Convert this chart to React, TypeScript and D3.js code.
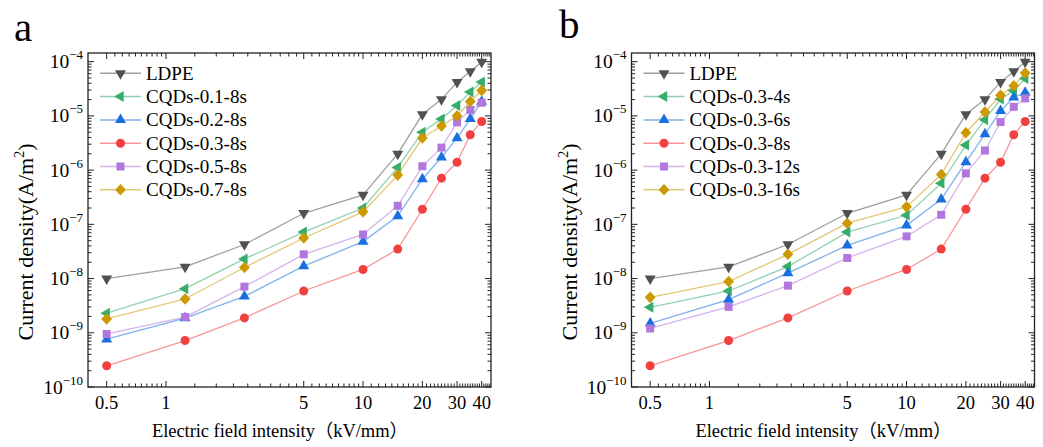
import React from "react";
import * as d3 from "d3";

// ---------- data ----------
const fieldValues = [0.5, 1.25, 2.5, 5, 10, 15, 20, 25, 30, 35, 40];

const ldpe = [1e-8, 1.64e-8, 4.25e-8, 1.6e-7, 3.5e-7, 2.0e-6, 1.07e-5, 2.02e-5, 4.2e-5, 6.6e-5, 9.9e-5];
const cqd03_8s = [2.46e-10, 7.2e-10, 1.88e-9, 5.9e-9, 1.47e-8, 3.5e-8, 1.9e-7, 7.1e-7, 1.4e-6, 4.5e-6, 7.9e-6];

// panel a
const cqd01_8s = [2.3e-9, 6.5e-9, 2.3e-8, 7.2e-8, 2.0e-7, 1.12e-6, 5.0e-6, 8.8e-6, 1.55e-5, 2.75e-5, 4.2e-5];
const cqd02_8s = [7.6e-10, 1.87e-9, 4.7e-9, 1.7e-8, 4.8e-8, 1.42e-7, 6.8e-7, 1.72e-6, 3.9e-6, 8.8e-6, 1.84e-5];
const cqd05_8s = [9.5e-10, 1.95e-9, 7.1e-9, 2.8e-8, 6.5e-8, 2.2e-7, 1.18e-6, 2.6e-6, 7.6e-6, 1.29e-5, 1.75e-5];
const cqd07_8s = [1.8e-9, 4.2e-9, 1.6e-8, 5.6e-8, 1.7e-7, 8.1e-7, 3.9e-6, 6.5e-6, 1.0e-5, 1.84e-5, 2.95e-5];

// panel b
const cqd03_4s = [2.95e-9, 5.9e-9, 1.66e-8, 7.2e-8, 1.47e-7, 5.7e-7, 2.9e-6, 8.5e-6, 2.04e-5, 2.9e-5, 4.9e-5];
const cqd03_6s = [1.49e-9, 4.1e-9, 1.26e-8, 4.1e-8, 9.6e-8, 2.9e-7, 1.4e-6, 4.6e-6, 1.24e-5, 2.2e-5, 2.7e-5];
const cqd03_12s = [1.2e-9, 3.0e-9, 7.4e-9, 2.4e-8, 6.0e-8, 1.5e-7, 8.7e-7, 2.3e-6, 7.7e-6, 1.47e-5, 2.1e-5];
const cqd03_16s = [4.5e-9, 8.8e-9, 2.8e-8, 1.05e-7, 2.1e-7, 8.3e-7, 4.9e-6, 1.18e-5, 2.4e-5, 3.6e-5, 6.2e-5];

const labelsA = ["LDPE", "CQDs-0.1-8s", "CQDs-0.2-8s", "CQDs-0.3-8s", "CQDs-0.5-8s", "CQDs-0.7-8s"];
const labelsB = ["LDPE", "CQDs-0.3-4s", "CQDs-0.3-6s", "CQDs-0.3-8s", "CQDs-0.3-12s", "CQDs-0.3-16s"];
const valuesA = [ldpe, cqd01_8s, cqd02_8s, cqd03_8s, cqd05_8s, cqd07_8s];
const valuesB = [ldpe, cqd03_4s, cqd03_6s, cqd03_8s, cqd03_12s, cqd03_16s];

const xTickValues = [0.5, 1, 5, 10, 20, 30, 40];
const xTickLabels = ["0.5", "1", "5", "10", "20", "30", "40"];
const yExponents = [-10, -9, -8, -7, -6, -5, -4];

// ---------- styles ----------
const markerColors = ["#515151", "#37AD6B", "#1A6FDF", "#F14040", "#B177DE", "#CC9900"];
const shapes = ["down", "left", "up", "circle", "square", "diamond"];
const FONT = "'Liberation Serif', 'Times New Roman', 'Noto Sans CJK SC', serif";

const TOP = 53;
const BOTTOM = 387;
const PW = 403;

function markerPath(shape: string): string {
  const w = 11, h = 9.5;
  switch (shape) {
    case "up":
      return `M0,${-h * 2 / 3}L${w / 2},${h / 3}L${-w / 2},${h / 3}Z`;
    case "down":
      return `M0,${h * 2 / 3}L${w / 2},${-h / 3}L${-w / 2},${-h / 3}Z`;
    case "left":
      return `M${-h * 2 / 3},0L${h / 3},${-w / 2}L${h / 3},${w / 2}Z`;
    case "square":
      return "M-4,-4H4V4H-4Z";
    case "diamond":
      return "M0,-5.8L5.4,0L0,5.8L-5.4,0Z";
    default:
      return d3.symbol().type(d3.symbolCircle).size(Math.PI * 4.5 * 4.5)() as string;
  }
}

function minorX(): number[] {
  const out: number[] = [];
  const bounds = [0.5, 1, 5, 10, 20, 30, 40];
  for (let i = 0; i < bounds.length - 1; i++) {
    const a = bounds[i], b = bounds[i + 1];
    for (let k = 1; k < 10; k++) out.push(a + ((b - a) * k) / 10);
  }
  for (let v = 41; v <= 44; v++) out.push(v);
  return out;
}

function minorY(): number[] {
  const out: number[] = [];
  for (let e = -10; e <= -4; e++) {
    for (let m = 2; m <= 9; m++) {
      const v = m * Math.pow(10, e);
      if (v < Math.pow(10, -3.84)) out.push(v);
    }
  }
  return out;
}

function Panel({ left, values, labels, tag, tagX, tagY }: any) {
  const x = d3.scaleLog().domain([0.402, 44.6]).range([left, left + PW]);
  const y = d3.scaleLog().domain([1e-10, Math.pow(10, -3.84)]).range([BOTTOM, TOP]);
  const line = d3
    .line<number>()
    .x((_, i) => x(fieldValues[i]))
    .y((d) => y(d));
  const right = left + PW;
  const mx = minorX();
  const my = minorY();
  const legendX = left + 12;
  return (
    <g>
      <text x={tagX} y={tagY} fontFamily={FONT} fontSize={41}>{tag}</text>
      {/* ticks */}
      <g stroke="#222" strokeWidth={1}>
        {xTickValues.map((v) => (
          <g key={"xm" + v}>
            <line x1={x(v)} x2={x(v)} y1={BOTTOM} y2={BOTTOM - 6} />
            <line x1={x(v)} x2={x(v)} y1={TOP} y2={TOP + 6} />
          </g>
        ))}
        {mx.map((v, i) => (
          <g key={"xn" + i}>
            <line x1={x(v)} x2={x(v)} y1={BOTTOM} y2={BOTTOM - 3.5} />
            <line x1={x(v)} x2={x(v)} y1={TOP} y2={TOP + 3.5} />
          </g>
        ))}
        {yExponents.map((e) => (
          <g key={"ym" + e}>
            <line x1={left} x2={left + 6} y1={y(Math.pow(10, e))} y2={y(Math.pow(10, e))} />
            <line x1={right} x2={right - 6} y1={y(Math.pow(10, e))} y2={y(Math.pow(10, e))} />
          </g>
        ))}
        {my.map((v, i) => (
          <g key={"yn" + i}>
            <line x1={left} x2={left + 3.5} y1={y(v)} y2={y(v)} />
            <line x1={right} x2={right - 3.5} y1={y(v)} y2={y(v)} />
          </g>
        ))}
      </g>
      <rect x={left} y={TOP} width={PW} height={BOTTOM - TOP} fill="none" stroke="#222" strokeWidth={1.3} />
      {/* tick labels */}
      {xTickValues.map((v, i) => (
        <text key={"xl" + v} x={x(v)} y={409} textAnchor="middle" fontFamily={FONT} fontSize={18.5}>
          {xTickLabels[i]}
        </text>
      ))}
      {yExponents.map((e) => (
        <text key={"yl" + e} x={left - 5} y={y(Math.pow(10, e)) + 6.5} textAnchor="end" fontFamily={FONT} fontSize={19.5}>
          <tspan>10</tspan>
          <tspan dy={-9} fontSize={13}>{"\u2212" + Math.abs(e)}</tspan>
        </text>
      ))}
      {/* axis titles */}
      <text x={left + 192} y={437} textAnchor="middle" fontFamily={FONT} fontSize={18.5} textLength={256} lengthAdjust="spacing">
        Electric field intensity（kV/mm）
      </text>
      <text transform={`translate(${left - 55},242) rotate(-90)`} textAnchor="middle" fontFamily={FONT} fontSize={22}>
        <tspan>Current density(A/m</tspan>
        <tspan dy={-9} fontSize={14}>2</tspan>
        <tspan dy={9}>)</tspan>
      </text>
      {/* series */}
      {values.map((vals: number[], s: number) => (
        <g key={"s" + s}>
          <path d={line(vals) as string} fill="none" stroke={markerColors[s]} strokeOpacity={0.55} strokeWidth={1.3} />
          {vals.map((v, i) => (
            <path key={i} d={markerPath(shapes[s])} transform={`translate(${x(fieldValues[i])},${y(v)})`} fill={markerColors[s]} />
          ))}
        </g>
      ))}
      {/* legend */}
      {labels.map((lab: string, s: number) => {
        const ly = 73.3 + s * 23.3;
        return (
          <g key={"lg" + s}>
            <line x1={legendX} x2={legendX + 41} y1={ly} y2={ly} stroke={markerColors[s]} strokeOpacity={0.55} strokeWidth={1.5} />
            <path d={markerPath(shapes[s])} transform={`translate(${legendX + 20.5},${ly})`} fill={markerColors[s]} />
            <text x={legendX + 46} y={ly + 6.5} fontFamily={FONT} fontSize={19}>{lab}</text>
          </g>
        );
      })}
    </g>
  );
}

export default function App() {
  return (
    <svg width={1043} height={447} style={{ position: "absolute", left: 0, top: 0, background: "#fff" }}>
      <rect width={1043} height={447} fill="#fff" />
      <Panel left={88} values={valuesA} labels={labelsA} tag="a" tagX={14} tagY={41} />
      <Panel left={631.5} values={valuesB} labels={labelsB} tag="b" tagX={559} tagY={38} />
    </svg>
  );
}
